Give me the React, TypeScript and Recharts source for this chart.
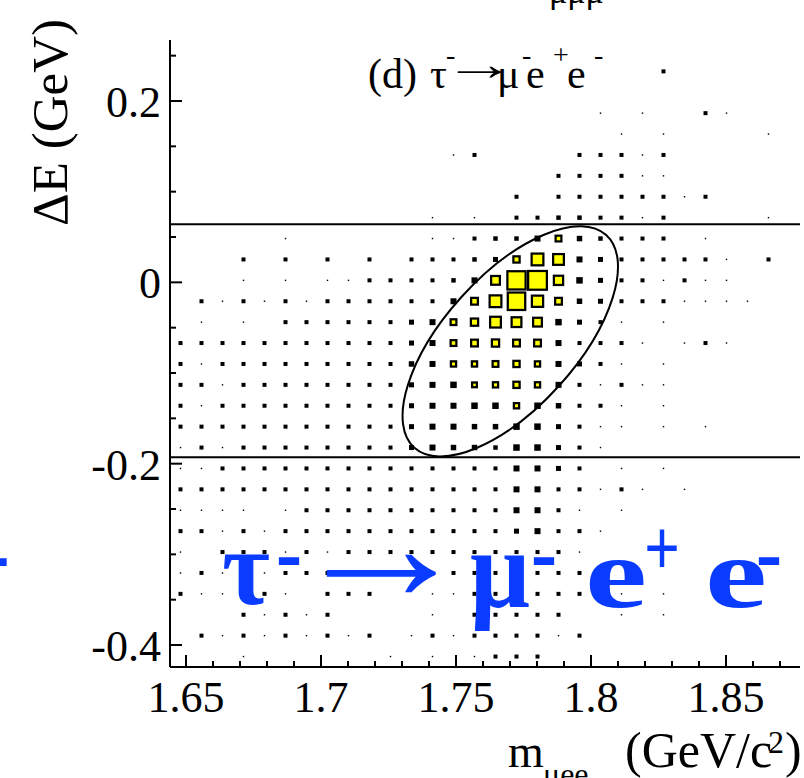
import React from "react";
import { ScatterChart, Scatter, XAxis, YAxis, ZAxis, ReferenceLine } from "recharts";

// ---- layout ----
const CHART_W = 804;
const CHART_H = 778;
const MARGIN = { top: 40, right: 4, bottom: 0, left: 0 };
const LEFT_AXIS_W = 170;
const BOTTOM_AXIS_H = 111;
const PLOT_W = CHART_W - MARGIN.left - MARGIN.right - LEFT_AXIS_W;
const PLOT_H = CHART_H - MARGIN.top - MARGIN.bottom - BOTTOM_AXIS_H;

// ---- axis ranges and ticks ----
const M_RANGE = [1.64407, 1.87741]; // m_mu-e-e (GeV/c^2)
const DE_RANGE = [-0.42424, 0.26728]; // Delta E (GeV)
const M_TICKS = [1.65, 1.66, 1.67, 1.68, 1.69, 1.7, 1.71, 1.72, 1.73, 1.74, 1.75, 1.76, 1.77, 1.78, 1.79, 1.8, 1.81, 1.82, 1.83, 1.84, 1.85, 1.86, 1.87];
const M_LABELS = [1.65, 1.7, 1.75, 1.8, 1.85];
const DE_TICKS = [-0.4, -0.35, -0.3, -0.25, -0.2, -0.15, -0.1, -0.05, 0, 0.05, 0.1, 0.15, 0.2, 0.25];
const DE_LABELS = [-0.4, -0.2, 0, 0.2];

// ---- signal band and ellipse ----
const DE_BAND = [-0.193, 0.064];
const ELLIPSE_CENTER = { m: 1.7701, dE: -0.0651 };
const ELLIPSE_AXIS_A = [0.03552, 0.1173]; // conjugate semi-diameters (GeV/c^2, GeV)
const ELLIPSE_AXIS_B = [-0.01817, 0.04866];

// ---- 2D histogram: 30 x 30 bins, rows from highest Delta E down ----
const N_M_BINS = 30;
const N_DE_BINS = 30;
const V_MAX = 400;
const COUNTS = [
  [0,0,0,0,0,0,0,0,0,0, 0,0,0,0,0,0,0,0,0,0, 0,0,0,0,0,0,0,0,0,0],
  [0,0,0,0,0,0,0,0,0,0, 0,0,0,0,0,0,0,0,0,0, 0,0,0,9,0,0,0,0,0,0],
  [0,0,0,0,0,0,0,0,0,0, 0,0,0,0,0,0,0,0,0,0, 0,0,0,0,0,0,0,0,0,0],
  [0,0,0,0,0,0,0,0,0,0, 0,0,0,0,0,0,0,0,0,0, 2,0,2,0,0,9,2,0,0,0],
  [0,0,0,0,0,0,0,0,0,0, 0,0,0,0,0,0,0,0,0,0, 0,2,0,2,0,0,0,0,2,0],
  [0,0,0,0,0,0,0,0,0,0, 0,0,0,2,9,0,0,0,0,9, 9,9,2,9,0,0,0,0,0,0],
  [0,0,0,0,0,0,0,0,0,0, 0,0,0,0,0,0,0,0,9,9, 9,9,2,2,0,0,0,0,0,0],
  [0,0,0,0,0,0,0,0,0,0, 0,0,0,0,0,0,9,0,9,9, 9,9,9,9,2,9,0,0,0,0],
  [0,0,0,0,0,0,0,0,0,0, 0,0,2,0,2,0,9,9,12,12, 9,9,2,9,0,0,0,0,2,0],
  [0,0,0,0,0,2,0,0,0,0, 0,0,2,2,9,12,12,25,49,20, 12,9,9,9,0,2,0,0,0,0],
  [0,0,0,9,0,9,0,9,0,9, 0,9,9,9,12,16,56,169,144,25, 16,9,9,9,9,9,2,0,9,0],
  [0,0,0,2,0,2,0,2,2,9, 9,9,9,12,25,100,380,400,110,30, 16,9,9,2,9,2,2,0,0,0],
  [0,9,2,9,2,9,2,9,9,9, 9,9,9,25,64,169,350,156,64,20, 16,9,9,9,2,2,2,2,0,0],
  [0,2,0,2,0,9,9,9,9,9, 9,16,25,49,72,144,121,100,30,16, 9,2,0,2,0,0,0,0,0,0],
  [9,9,9,9,9,9,9,9,9,9, 9,16,25,49,64,72,64,64,25,9, 9,9,2,0,2,9,2,0,0,0],
  [9,2,9,9,9,9,9,9,9,9, 9,20,25,42,42,49,56,42,25,16, 9,2,0,2,0,0,0,0,0,0],
  [9,9,2,9,9,9,9,9,9,9, 9,16,25,30,36,42,56,42,25,9, 2,9,2,2,0,0,0,0,0,0],
  [9,2,9,9,9,9,9,9,9,9, 9,16,25,25,30,30,42,30,20,9, 9,2,0,2,0,0,0,0,0,0],
  [9,9,9,9,9,9,9,9,9,9, 9,16,25,25,20,20,30,30,16,9, 2,2,0,2,0,2,0,0,0,0],
  [2,9,2,9,9,9,9,9,9,9, 9,16,25,20,20,12,30,30,16,9, 2,0,0,0,0,0,0,0,0,0],
  [2,2,9,9,9,9,9,9,9,9, 9,9,9,9,9,9,25,25,16,9, 0,2,0,2,0,0,0,0,0,0],
  [9,9,9,9,9,9,9,9,9,9, 9,9,9,9,9,9,25,25,9,9, 2,9,2,0,2,0,0,0,0,0],
  [2,2,2,2,0,2,9,9,9,9, 9,9,9,9,9,9,25,25,9,2, 0,2,0,0,0,0,0,0,0,0],
  [9,9,2,9,2,9,9,9,9,9, 9,9,9,9,9,9,16,25,9,9, 2,0,0,0,0,0,0,0,0,0],
  [2,0,9,9,9,2,9,2,9,9, 9,9,9,9,9,9,9,9,9,2, 0,0,0,0,0,0,0,0,0,0],
  [2,9,2,9,2,9,9,9,2,9, 2,9,2,9,9,9,9,9,9,9, 0,0,0,0,0,0,0,0,0,0],
  [9,2,2,9,9,2,0,9,9,9, 0,0,2,2,9,9,9,9,9,9, 0,2,0,2,0,0,0,0,0,0],
  [0,0,0,9,2,9,2,9,0,0, 0,0,2,0,9,9,9,9,9,0, 0,2,0,2,0,0,0,0,0,0],
  [0,9,2,9,2,9,2,9,2,9, 0,2,9,2,9,9,9,9,2,9, 0,0,0,0,0,0,0,0,0,0],
  [0,0,0,2,0,0,0,0,0,0, 2,0,2,0,2,9,9,9,0,0, 0,0,0,0,0,0,0,0,0,0],
];

// bin centres from the histogram edges
const M_BIN = (M_RANGE[1] - M_RANGE[0]) / N_M_BINS;
const DE_BIN = (DE_RANGE[1] - DE_RANGE[0]) / N_DE_BINS;
const BIN_POINTS: { m: number; dE: number; v: number }[] = [];
COUNTS.forEach((row, r) => {
  row.forEach((v, c) => {
    if (v > 0) {
      BIN_POINTS.push({
        m: M_RANGE[0] + (c + 0.5) * M_BIN,
        dE: DE_RANGE[1] - (r + 0.5) * DE_BIN,
        v,
      });
    }
  });
});

const SERIF = "'Liberation Serif', 'Times New Roman', serif";
const BLUE = "#0a3cff";
const MAJOR_LEN = 12;
const MINOR_LEN = 6;

const hasValue = (list: number[], v: number) => list.some((t) => Math.abs(t - v) < 1e-6);

function BottomTick(props: any) {
  const { x, y, payload } = props;
  const major = hasValue(M_LABELS, payload.value);
  return (
    <g>
      <line x1={x} x2={x} y1={y} y2={y - (major ? MAJOR_LEN : MINOR_LEN)} stroke="#000" strokeWidth={2} />
      {major && (
        <text x={x} y={y + 45} textAnchor="middle" fontFamily={SERIF} fontSize={44} fill="#000">
          {String(payload.value)}
        </text>
      )}
    </g>
  );
}

function TopTick(props: any) {
  const { x, y, payload } = props;
  const major = hasValue(M_LABELS, payload.value);
  return <line x1={x} x2={x} y1={y} y2={y + (major ? MAJOR_LEN : MINOR_LEN)} stroke="#000" strokeWidth={2} />;
}

function LeftTick(props: any) {
  const { x, y, payload } = props;
  const major = hasValue(DE_LABELS, payload.value);
  return (
    <g>
      <line x1={x} x2={x + (major ? MAJOR_LEN : MINOR_LEN)} y1={y} y2={y} stroke="#000" strokeWidth={2} />
      {major && (
        <text x={x - 9} y={y + 16} textAnchor="end" fontFamily={SERIF} fontSize={44} fill="#000">
          {String(payload.value)}
        </text>
      )}
    </g>
  );
}

function RightTick(props: any) {
  const { x, y, payload } = props;
  const major = hasValue(DE_LABELS, payload.value);
  return <line x1={x} x2={x - (major ? MAJOR_LEN : MINOR_LEN)} y1={y} y2={y} stroke="#000" strokeWidth={2} />;
}

// box whose area follows the Z axis scale: black frame drawn over the edge, yellow fill inside
function BinBox(props: any) {
  const { cx, cy } = props;
  if (cx == null || cy == null) return <g />;
  const area = typeof props.size === "number" ? props.size : Math.PI * Math.pow((props.width || 0) / 2, 2);
  const s = Math.sqrt(Math.max(area, 0));
  if (s <= 0) return <g />;
  const outer = s < 2 ? s : s + 1;
  const inner = s - 3.5;
  return (
    <g>
      <rect x={cx - outer / 2} y={cy - outer / 2} width={outer} height={outer} fill="#000" />
      {inner >= 2 && <rect x={cx - inner / 2} y={cy - inner / 2} width={inner} height={inner} fill="#ffff00" />}
    </g>
  );
}

const PX_PER_M = PLOT_W / (M_RANGE[1] - M_RANGE[0]);
const PX_PER_DE = PLOT_H / (DE_RANGE[1] - DE_RANGE[0]);

function SignalEllipse(props: any) {
  const { cx, cy } = props;
  if (cx == null || cy == null) return <g />;
  const a = ELLIPSE_AXIS_A[0] * PX_PER_M;
  const b = -ELLIPSE_AXIS_A[1] * PX_PER_DE;
  const c = ELLIPSE_AXIS_B[0] * PX_PER_M;
  const d = -ELLIPSE_AXIS_B[1] * PX_PER_DE;
  return (
    <ellipse
      cx={0}
      cy={0}
      rx={1}
      ry={1}
      fill="none"
      stroke="#000"
      strokeWidth={2}
      vectorEffect="non-scaling-stroke"
      transform={`matrix(${a} ${b} ${c} ${d} ${cx} ${cy})`}
    />
  );
}

function Annotations() {
  return (
    <svg
      width={CHART_W}
      height={CHART_H}
      style={{ position: "absolute", left: 0, top: 0, pointerEvents: "none", overflow: "hidden" }}
    >
      {/* subscript of the neighbouring panel's title, cut by the top edge */}
      <text x={549} y={3} fontFamily={SERIF} fontSize={34} fill="#000">μμμ</text>

      {/* panel label */}
      <text fontFamily={SERIF} fill="#000" fontSize={42}>
        <tspan x={368} y={88}>(d)</tspan>
        <tspan x={430} y={88}>τ</tspan>
        <tspan x={446} y={64} fontSize={28}>-</tspan>
        <tspan x={443} y={80} fontSize={46} textLength={74} lengthAdjust="spacingAndGlyphs">→</tspan>
        <tspan x={497} y={88}>μ</tspan>
        <tspan x={522} y={64} fontSize={28}>-</tspan>
        <tspan x={526} y={88}>e</tspan>
        <tspan x={553} y={64} fontSize={28}>+</tspan>
        <tspan x={567} y={88}>e</tspan>
        <tspan x={594} y={64} fontSize={28}>-</tspan>
      </text>

      {/* axis titles */}
      <text
        x={67}
        y={122.5}
        transform="rotate(-90 67 122.5)"
        textAnchor="middle"
        fontFamily={SERIF}
        fontSize={51}
        fill="#000"
      >
        ΔE (GeV)
      </text>
      <text fontFamily={SERIF} fill="#000">
        <tspan x={508} y={767} fontSize={46}>m</tspan>
        <tspan x={543} y={785} fontSize={32}>μee</tspan>
        <tspan x={625} y={767} fontSize={50}>(GeV/c</tspan>
        <tspan x={768} y={753} fontSize={32}>2</tspan>
        <tspan x={785} y={767} fontSize={50}>)</tspan>
      </text>

      {/* decay channel caption */}
      <text x={-20} y={584} fontFamily={SERIF} fontWeight="bold" fill={BLUE} fontSize={90}>-</text>
      <text fontFamily={SERIF} fontWeight="bold" fill={BLUE}>
        <tspan x={222} y={604} fontSize={108} textLength={48} lengthAdjust="spacingAndGlyphs">τ</tspan>
        <tspan x={276} y={583} fontSize={90} textLength={26} lengthAdjust="spacingAndGlyphs">-</tspan>
        <tspan x={289} y={600} fontSize={160} textLength={184} lengthAdjust="spacingAndGlyphs">→</tspan>
        <tspan x={470} y={607} fontSize={113} textLength={60} lengthAdjust="spacingAndGlyphs">μ</tspan>
        <tspan x={531} y={583} fontSize={90} textLength={26} lengthAdjust="spacingAndGlyphs">-</tspan>
        <tspan x={585} y={607} fontSize={100} textLength={62} lengthAdjust="spacingAndGlyphs">e</tspan>
        <tspan x={644} y={575} fontSize={80} textLength={36} lengthAdjust="spacingAndGlyphs">+</tspan>
        <tspan x={705} y={607} fontSize={100} textLength={62} lengthAdjust="spacingAndGlyphs">e</tspan>
        <tspan x={756} y={583} fontSize={90} textLength={26} lengthAdjust="spacingAndGlyphs">-</tspan>
      </text>
    </svg>
  );
}

export default function App() {
  return (
    <div style={{ position: "absolute", left: 0, top: 0, width: CHART_W, height: CHART_H, background: "#fff" }}>
      <ScatterChart width={CHART_W} height={CHART_H} margin={MARGIN}>
        <XAxis
          dataKey="m"
          type="number"
          domain={M_RANGE}
          allowDataOverflow
          ticks={M_TICKS}
          interval={0}
          height={BOTTOM_AXIS_H}
          tickSize={0}
          tickMargin={0}
          tickLine={false}
          tick={BottomTick}
          axisLine={{ stroke: "#000", strokeWidth: 2 }}
        />
        <XAxis
          xAxisId="top"
          orientation="top"
          type="number"
          domain={M_RANGE}
          allowDataOverflow
          ticks={M_TICKS}
          interval={0}
          height={0}
          tickSize={0}
          tickMargin={0}
          tickLine={false}
          tick={TopTick}
          axisLine={{ stroke: "#000", strokeWidth: 2 }}
        />
        <YAxis
          dataKey="dE"
          type="number"
          domain={DE_RANGE}
          allowDataOverflow
          ticks={DE_TICKS}
          interval={0}
          width={LEFT_AXIS_W}
          tickSize={0}
          tickMargin={0}
          tickLine={false}
          tick={LeftTick}
          axisLine={{ stroke: "#000", strokeWidth: 2 }}
        />
        <YAxis
          yAxisId="right"
          orientation="right"
          type="number"
          domain={DE_RANGE}
          allowDataOverflow
          ticks={DE_TICKS}
          interval={0}
          width={0}
          tickSize={0}
          tickMargin={0}
          tickLine={false}
          tick={RightTick}
          axisLine={{ stroke: "#000", strokeWidth: 2 }}
        />
        <ZAxis dataKey="v" type="number" domain={[0, V_MAX]} range={[0, V_MAX]} />
        <Scatter data={BIN_POINTS} shape={BinBox} isAnimationActive={false} />
        <ReferenceLine y={DE_BAND[1]} stroke="#000" strokeWidth={2} />
        <ReferenceLine y={DE_BAND[0]} stroke="#000" strokeWidth={2} />
        <Scatter data={[ELLIPSE_CENTER]} shape={SignalEllipse} isAnimationActive={false} />
      </ScatterChart>
      <Annotations />
    </div>
  );
}
